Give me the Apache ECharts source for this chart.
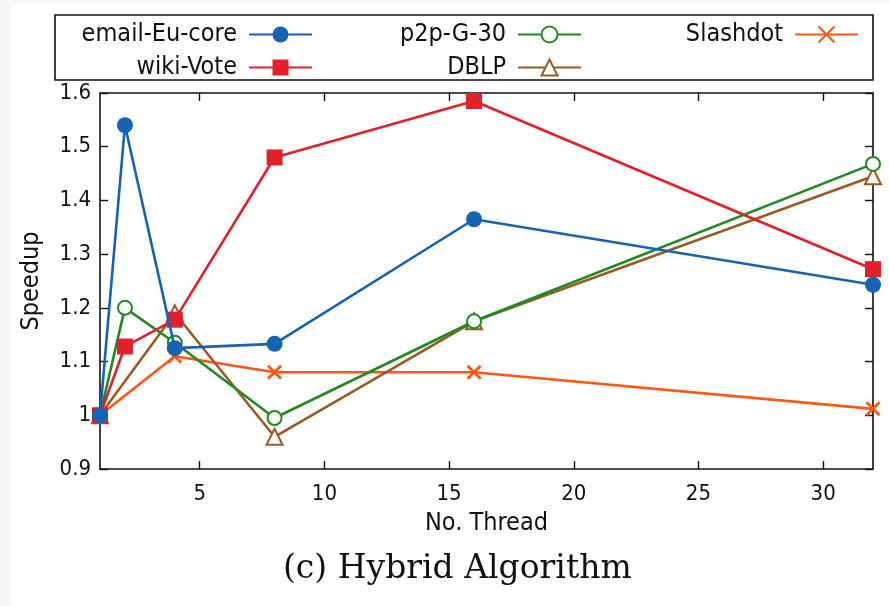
<!DOCTYPE html>
<html>
<head>
<meta charset="utf-8">
<script src="https://cdn.jsdelivr.net/npm/echarts@6/dist/echarts.min.js"></script>
<style>
html,body{margin:0;padding:0;background:#f6f6f6;}
#main{position:absolute;left:11px;top:3px;width:878px;height:603px;background:#fff;}
</style>
</head>
<body>
<div id="main"></div>
<script>
// ---- data ----
const seriesNames = ['email-Eu-core', 'wiki-Vote', 'p2p-G-30', 'DBLP', 'Slashdot'];
const emailThreads = [1, 2, 4, 8, 16, 32];
const emailSpeedup = [1.0, 1.54, 1.125, 1.133, 1.365, 1.243];
const wikiThreads = [1, 2, 4, 8, 16, 32];
const wikiSpeedup = [1.0, 1.128, 1.178, 1.48, 1.585, 1.272];
const p2pThreads = [1, 2, 4, 8, 16, 32];
const p2pSpeedup = [1.0, 1.2, 1.135, 0.995, 1.175, 1.468];
const dblpThreads = [1, 4, 8, 16, 32];
const dblpSpeedup = [1.0, 1.19, 0.96, 1.175, 1.445];
const slashThreads = [1, 4, 8, 16, 32];
const slashSpeedup = [1.0, 1.11, 1.08, 1.08, 1.012];
const xTicks = [5, 10, 15, 20, 25, 30];
const yTicks = [0.9, 1.0, 1.1, 1.2, 1.3, 1.4, 1.5, 1.6];

const pair = (xs, ys) => xs.map((x, i) => [x, ys[i]]);
const FONT = "'DejaVu Sans Condensed', 'DejaVu Sans', sans-serif";
const colors = ['#1463b5', '#e2202b', '#1f8a1f', '#9a5a26', '#ff5516'];

const chart = echarts.init(document.getElementById('main'), null, {renderer: 'canvas'});
const OX = 11, OY = 3; // div offset

function mkLegend(name, rightPx, topPx) {
  return {
    data: [name], orient: 'horizontal', align: 'right',
    right: rightPx, top: topPx - OY,
    itemWidth: 63, itemHeight: 20, itemGap: 0, padding: 0,
    textStyle: {fontFamily: FONT, fontSize: 25, color: '#111', padding: [0, 7, 0, 0]},
    selectedMode: false
  };
}

const axisCommon = {
  type: 'value', min: 1, max: 32,
  axisLine: {show: true, lineStyle: {color: '#111', width: 1.6}},
  splitLine: {show: false},
};

const option = {
  backgroundColor: '#fff',
  animation: false,
  color: colors,
  grid: {left: 99 - OX, right: 16, top: 93 - OY, bottom: 137, containLabel: false},
  legend: [
    mkLegend(seriesNames[0], 576, 22),
    mkLegend(seriesNames[1], 576, 55),
    mkLegend(seriesNames[2], 307, 22),
    mkLegend(seriesNames[3], 307, 55),
    mkLegend(seriesNames[4], 30, 22)
  ],
  graphic: [
    {type: 'rect', shape: {x: 55 - OX, y: 15 - OY, width: 873 - 55, height: 80 - 15},
     style: {fill: 'none', stroke: '#111', lineWidth: 1.6}, silent: true, z: -1},
    {type: 'text', left: 283 - OX, top: 553 - OY,
     style: {text: '(c) Hybrid Algorithm', font: "33px 'DejaVu Serif', serif", fill: '#111'}}
  ],
  xAxis: [
    Object.assign({}, axisCommon, {
      position: 'bottom',
      name: 'No. Thread', nameLocation: 'middle', nameGap: 42,
      nameTextStyle: {fontFamily: FONT, fontSize: 25, color: '#111'},
      axisTick: {show: true, inside: true, length: 8, lineStyle: {color: '#111', width: 1.4}, customValues: xTicks},
      axisLabel: {show: true, fontFamily: FONT, fontSize: 22, color: '#111', margin: 14, customValues: xTicks}
    }),
    Object.assign({}, axisCommon, {
      position: 'top',
      axisTick: {show: true, inside: true, length: 8, lineStyle: {color: '#111', width: 1.4}, customValues: xTicks},
      axisLabel: {show: false}
    })
  ],
  yAxis: [
    {
      type: 'value', min: 0.9, max: 1.6, position: 'left',
      axisLine: {show: true, lineStyle: {color: '#111', width: 1.6}},
      splitLine: {show: false},
      name: 'Speedup', nameLocation: 'middle', nameGap: 56, nameRotate: 90,
      nameTextStyle: {fontFamily: FONT, fontSize: 25, color: '#111'},
      axisTick: {show: true, inside: true, length: 8, lineStyle: {color: '#111', width: 1.4}, customValues: yTicks},
      axisLabel: {show: true, fontFamily: FONT, fontSize: 22, color: '#111', margin: 9, customValues: yTicks,
        formatter: v => String(Math.round(v * 10) / 10)}
    },
    {
      type: 'value', min: 0.9, max: 1.6, position: 'right',
      axisLine: {show: true, lineStyle: {color: '#111', width: 1.6}},
      splitLine: {show: false},
      axisTick: {show: true, inside: true, length: 8, lineStyle: {color: '#111', width: 1.4}, customValues: yTicks},
      axisLabel: {show: false}
    }
  ],
  series: [
    {name: seriesNames[0], type: 'line', data: pair(emailThreads, emailSpeedup),
     symbol: 'circle', symbolSize: 16, lineStyle: {width: 2.6}, itemStyle: {color: colors[0]}, z: 5},
    {name: seriesNames[1], type: 'line', data: pair(wikiThreads, wikiSpeedup),
     symbol: 'rect', symbolSize: 16, lineStyle: {width: 2.6}, itemStyle: {color: colors[1]}, z: 4},
    {name: seriesNames[2], type: 'line', data: pair(p2pThreads, p2pSpeedup),
     symbol: 'emptyCircle', symbolSize: 14, lineStyle: {width: 2.6},
     itemStyle: {color: colors[2], borderColor: colors[2], borderWidth: 2.6}, z: 3},
    {name: seriesNames[3], type: 'line', data: pair(dblpThreads, dblpSpeedup),
     symbol: 'emptyTriangle', symbolSize: 16, lineStyle: {width: 2.6},
     itemStyle: {color: colors[3], borderColor: colors[3], borderWidth: 2.6}, z: 2},
    {name: seriesNames[4], type: 'line', data: pair(slashThreads, slashSpeedup),
     symbol: 'path://M0,0L10,10M10,0L0,10', symbolSize: 13, lineStyle: {width: 2.6},
     itemStyle: {color: colors[4], borderColor: colors[4], borderWidth: 2.8}, z: 1}
  ]
};
chart.setOption(option);
</script>
</body>
</html>
